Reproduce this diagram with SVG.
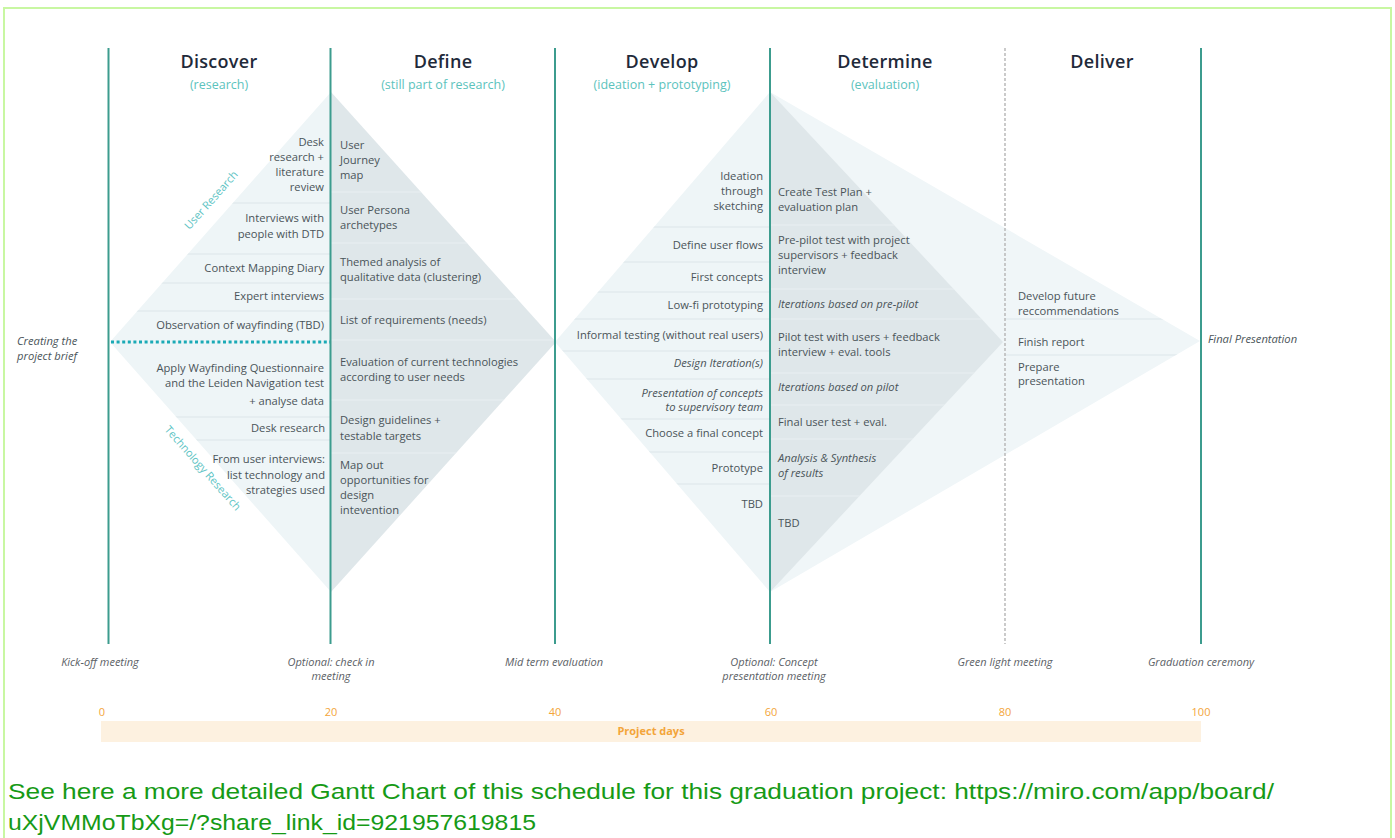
<svg xmlns="http://www.w3.org/2000/svg" width="1395" height="838" viewBox="0 0 1395 838">
<style>
  .frame{fill:none;stroke:#c8f7a2;stroke-width:2}
  .vl{stroke:#3c9c8e;stroke-width:2}
  .dl{stroke:#b5b5b5;stroke-width:1.4;stroke-dasharray:3 2}
  .hd{font-family:"Open Sans","Noto Sans",sans-serif;font-size:18px;font-weight:600;fill:#1f2a3a;text-anchor:middle;letter-spacing:0.3px}
  .sub{font-family:"Open Sans","Noto Sans",sans-serif;font-size:12.5px;fill:#5cc3bd;text-anchor:middle}
  .t{font-family:"Open Sans","Noto Sans",sans-serif;font-size:11.2px;fill:#4a5459}
  .r{text-anchor:end}
  .i{font-style:italic}
  .ms{font-family:"Open Sans","Noto Sans",sans-serif;font-size:11px;font-style:italic;fill:#5b6166;text-anchor:middle}
  .num{font-family:"Open Sans","Noto Sans",sans-serif;font-size:11px;fill:#f3a53a;text-anchor:middle}
  .lt{fill:#eef5f7}
  .dk{fill:#dfe7ea}
  .sepL{stroke:#dce6e9;stroke-width:1.2}
  .sepD{stroke:#e9eff1;stroke-width:1.2}
  .lbl{font-family:"Open Sans","Noto Sans",sans-serif;font-size:11px;fill:#5cc3c3;text-anchor:middle}
  .note{font-family:"Liberation Sans Narrow","Liberation Sans",sans-serif;font-size:22px;fill:#169a16}
</style>
<defs>
  <clipPath id="cDisc"><polygon points="331,92 110,342 331,592"/></clipPath>
  <clipPath id="cDef"><polygon points="331,92 556,342 331,592"/></clipPath>
  <clipPath id="cDev"><polygon points="770,92 555,342 770,592"/></clipPath>
  <clipPath id="cDet"><polygon points="770,92 1003,342 770,592"/></clipPath>
  <clipPath id="cDel"><polygon points="770,92 1200,341 770,592"/></clipPath>
</defs>

<rect class="frame" x="4" y="8" width="1387" height="850"/>

<!-- diamonds -->
<g id="shapes">
  <polygon class="lt" points="331,92 110,342 331,592"/>
  <polygon class="dk" points="331,92 556,342 331,592"/>
  <polygon class="lt" points="770,92 555,342 770,592"/>
  <polygon fill="#f0f6f8" points="770,92 1200,341 770,592"/>
  <polygon class="dk" points="770,92 1003,342 770,592"/>
</g>

<g id="separators">
  <g clip-path="url(#cDisc)">
    <path class="sepL" d="M100 203H331M100 254H331M100 283H331M100 311H331M100 417H331M100 440H331"/>
  </g>
  <g clip-path="url(#cDef)">
    <path class="sepD" d="M331 192H560M331 243H560M331 299H560M331 340H560M331 400H560M331 453H560"/>
  </g>
  <g clip-path="url(#cDev)">
    <path class="sepL" d="M550 227H770M550 262H770M550 292H770M550 319H770M550 351H770M550 379H770M550 419H770M550 452H770M550 484H770"/>
  </g>
  <g clip-path="url(#cDet)">
    <path class="sepD" d="M770 225H1010M770 289H1010M770 319H1010M770 373H1010M770 405H1010M770 439H1010M770 496H1010"/>
  </g>
  <g clip-path="url(#cDel)">
    <path class="sepL" d="M1005 319H1205M1005 355H1205"/>
  </g>
</g>

<!-- connectors: phase lines and dotted brief line -->
<g id="connectors">
  <line class="vl" x1="108.5" y1="48" x2="108.5" y2="644"/>
  <line class="vl" x1="330.5" y1="48" x2="330.5" y2="644"/>
  <line class="vl" x1="555" y1="48" x2="555" y2="644"/>
  <line class="vl" x1="770" y1="48" x2="770" y2="644"/>
  <line class="dl" x1="1005" y1="48" x2="1005" y2="644"/>
  <line class="vl" x1="1201" y1="48" x2="1201" y2="644"/>
  <line x1="111" y1="342" x2="330" y2="342" stroke="#1aaab6" stroke-width="3" stroke-dasharray="3 2.6"/>
</g>

<g id="headers">
  <text class="hd" x="219" y="68">Discover</text>
  <text class="sub" x="219" y="89">(research)</text>
  <text class="hd" x="443" y="68">Define</text>
  <text class="sub" x="443" y="89">(still part of research)</text>
  <text class="hd" x="662" y="68">Develop</text>
  <text class="sub" x="662" y="89">(ideation + prototyping)</text>
  <text class="hd" x="885" y="68">Determine</text>
  <text class="sub" x="885" y="89">(evaluation)</text>
  <text class="hd" x="1102" y="68">Deliver</text>
</g>

<g id="discover">
  <text class="t r" x="324" y="146">Desk</text>
  <text class="t r" x="324" y="161">research +</text>
  <text class="t r" x="324" y="176">literature</text>
  <text class="t r" x="324" y="191">review</text>
  <text class="t r" x="324" y="222">Interviews with</text>
  <text class="t r" x="324" y="238">people with DTD</text>
  <text class="t r" x="324" y="272">Context Mapping Diary</text>
  <text class="t r" x="324" y="300">Expert interviews</text>
  <text class="t r" x="324" y="329">Observation of wayfinding (TBD)</text>
  <text class="t r" x="324" y="372">Apply Wayfinding Questionnaire</text>
  <text class="t r" x="324" y="387">and the Leiden Navigation test</text>
  <text class="t r" x="324" y="405">+ analyse data</text>
  <text class="t r" x="325" y="432">Desk research</text>
  <text class="t r" x="325" y="463">From user interviews:</text>
  <text class="t r" x="325" y="479">list technology and</text>
  <text class="t r" x="325" y="494">strategies used</text>
  <text class="lbl" transform="translate(211,200) rotate(-48.5)" dy="4">User Research</text>
  <text class="lbl" transform="translate(203,468) rotate(48.5)" dy="4">Technology Research</text>
</g>

<g id="define">
  <text class="t" x="340" y="149">User</text>
  <text class="t" x="340" y="164">Journey</text>
  <text class="t" x="340" y="179">map</text>
  <text class="t" x="340" y="214">User Persona</text>
  <text class="t" x="340" y="229">archetypes</text>
  <text class="t" x="340" y="266">Themed analysis of</text>
  <text class="t" x="340" y="281">qualitative data (clustering)</text>
  <text class="t" x="340" y="324">List of requirements (needs)</text>
  <text class="t" x="340" y="366">Evaluation of current technologies</text>
  <text class="t" x="340" y="381">according to user needs</text>
  <text class="t" x="340" y="424">Design guidelines +</text>
  <text class="t" x="340" y="440">testable targets</text>
  <text class="t" x="340" y="469">Map out</text>
  <text class="t" x="340" y="484">opportunities for</text>
  <text class="t" x="340" y="499">design</text>
  <text class="t" x="340" y="514">intevention</text>
</g>

<g id="develop">
  <text class="t r" x="763" y="180">Ideation</text>
  <text class="t r" x="763" y="195">through</text>
  <text class="t r" x="763" y="210">sketching</text>
  <text class="t r" x="763" y="249">Define user flows</text>
  <text class="t r" x="763" y="281">First concepts</text>
  <text class="t r" x="763" y="309">Low-fi prototyping</text>
  <text class="t r" x="763" y="339">Informal testing (without real users)</text>
  <text class="t r i" x="763" y="367">Design Iteration(s)</text>
  <text class="t r i" x="763" y="397">Presentation of concepts</text>
  <text class="t r i" x="763" y="411">to supervisory team</text>
  <text class="t r" x="763" y="437">Choose a final concept</text>
  <text class="t r" x="763" y="472">Prototype</text>
  <text class="t r" x="763" y="508">TBD</text>
</g>

<g id="determine">
  <text class="t" x="778" y="196">Create Test Plan +</text>
  <text class="t" x="778" y="211">evaluation plan</text>
  <text class="t" x="778" y="244">Pre-pilot test with project</text>
  <text class="t" x="778" y="259">supervisors + feedback</text>
  <text class="t" x="778" y="274">interview</text>
  <text class="t i" x="778" y="308">Iterations based on pre-pilot</text>
  <text class="t" x="778" y="341">Pilot test with users + feedback</text>
  <text class="t" x="778" y="356">interview + eval. tools</text>
  <text class="t i" x="778" y="391">Iterations based on pilot</text>
  <text class="t" x="778" y="426">Final user test + eval.</text>
  <text class="t i" x="778" y="462">Analysis &amp; Synthesis</text>
  <text class="t i" x="778" y="477">of results</text>
  <text class="t" x="778" y="527">TBD</text>
</g>

<g id="deliver">
  <text class="t" x="1018" y="300">Develop future</text>
  <text class="t" x="1018" y="315">reccommendations</text>
  <text class="t" x="1018" y="346">Finish report</text>
  <text class="t" x="1018" y="371">Prepare</text>
  <text class="t" x="1018" y="385">presentation</text>
  <text class="t i" x="1208" y="343">Final Presentation</text>
</g>

<g id="brief">
  <text class="t i" x="17" y="345">Creating the</text>
  <text class="t i" x="17" y="360">project brief</text>
</g>

<g id="milestones">
  <text class="ms" x="100" y="666">Kick-off meeting</text>
  <text class="ms" x="331" y="666">Optional: check in</text>
  <text class="ms" x="331" y="680">meeting</text>
  <text class="ms" x="554" y="666">Mid term evaluation</text>
  <text class="ms" x="774" y="666">Optional: Concept</text>
  <text class="ms" x="774" y="680">presentation meeting</text>
  <text class="ms" x="1005" y="666">Green light meeting</text>
  <text class="ms" x="1201" y="666">Graduation ceremony</text>
</g>

<g id="timeline">
  <rect x="101" y="721" width="1100" height="21" fill="#fdf1e0"/>
  <text class="num" x="102" y="716">0</text>
  <text class="num" x="331" y="716">20</text>
  <text class="num" x="555" y="716">40</text>
  <text class="num" x="771" y="716">60</text>
  <text class="num" x="1005" y="716">80</text>
  <text class="num" x="1201" y="716">100</text>
  <text class="num" x="651" y="735" font-weight="700" font-size="10.5">Project days</text>
</g>

<g id="note">
  <text class="note" x="8" y="799" textLength="1266" lengthAdjust="spacingAndGlyphs">See here a more detailed Gantt Chart of this schedule for this graduation project: https://miro.com/app/board/</text>
  <text class="note" x="8" y="830" textLength="528" lengthAdjust="spacingAndGlyphs">uXjVMMoTbXg=/?share_link_id=921957619815</text>
</g>
</svg>
